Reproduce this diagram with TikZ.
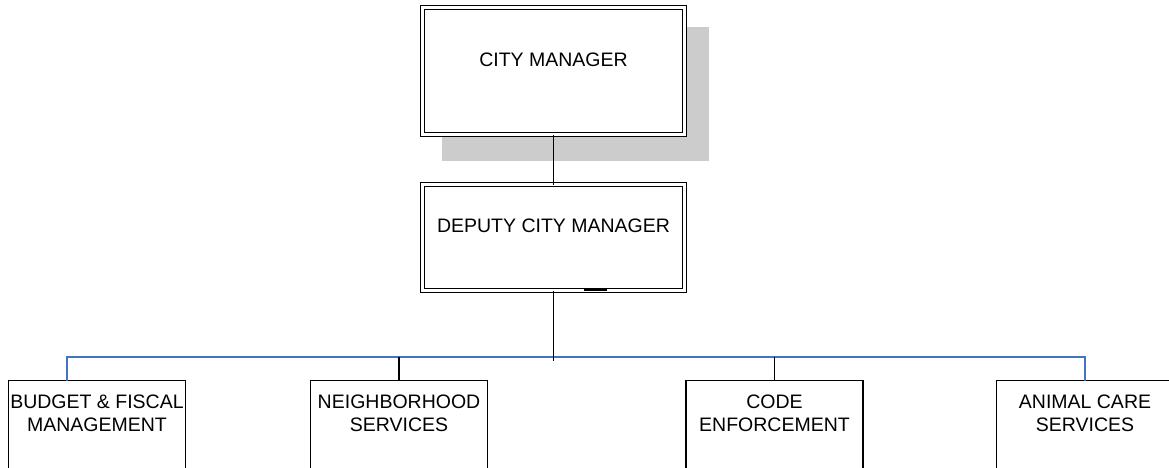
\documentclass[tikz,border=0pt]{standalone}
\usepackage{fontspec}
\setmainfont{Liberation Sans}
\definecolor{busblue}{HTML}{4472C4}
\begin{document}
\begin{tikzpicture}[x=1pt,y=-1pt,
  every node/.style={inner sep=0pt, outer sep=0pt},
  execbox/.style={draw=black, line width=1.6pt, double=white, double distance=2.2pt,
                  fill=white, minimum width=262pt, rectangle},
  unitbox/.style={draw=black, line width=1.7pt, fill=white, rectangle,
                  minimum width=177pt, minimum height=120pt, anchor=north},
  label/.style={font=\fontsize{19.5}{23}\selectfont, align=center, anchor=base, text=black},
  link/.style={draw=black, line width=1.7pt},
  bus/.style={draw=busblue, line width=1.7pt},
  shadowbox/.style={fill=black!20, draw=none}]
\clip (0,0) rectangle (1169,468);
\fill[white] (0,0) rectangle (1169,468);

% drop shadow behind the top box
\fill[shadowbox] (442,27) rectangle (709,161);

% executive boxes
\node[execbox, minimum height=127pt] (cm) at (553.5,71) {};
\node[execbox, minimum height=106pt] (dcm) at (553.5,237.5) {};
\node[label] (cmt) at (553.5,66.7) {CITY MANAGER};
\node[label] (dcmt) at (553.5,232.7) {DEPUTY CITY MANAGER};
\draw[line width=2.2pt] ([xshift=30pt,yshift=1pt]dcm.south) -- ([xshift=53pt,yshift=1pt]dcm.south);

% bus coordinates
\coordinate (bus) at (553.5,357);
\coordinate (busend) at (553.5,361);

% unit boxes
\node[unitbox] (bfm) at (97,380.5) {};
\node[unitbox] (nbs) at (399,380.5) {};
\node[unitbox] (cen) at (774.5,380.5) {};
\node[unitbox] (acs) at (1085,380.5) {};
\node[label] (bfmt) at (97,431) {BUDGET \& FISCAL\\MANAGEMENT};
\node[label] (nbst) at (399,431) {NEIGHBORHOOD\\SERVICES};
\node[label] (cent) at (774.5,431) {CODE\\ENFORCEMENT};
\node[label] (acst) at (1085,431) {ANIMAL CARE\\SERVICES};

% connectors
\coordinate (bfmtap) at ([xshift=-30pt]bfm.north);
\draw[bus] (bfmtap) -- (bfmtap |- bus) -- (acs.north |- bus) -- (acs.north);
\draw[link] (cm.south) -- (dcm.north);
\draw[link] (dcm.south) -- (busend);
\draw[link] (nbs.north) -- (nbs.north |- bus);
\draw[link] (cen.north) -- (cen.north |- bus);
\end{tikzpicture}
\end{document}
